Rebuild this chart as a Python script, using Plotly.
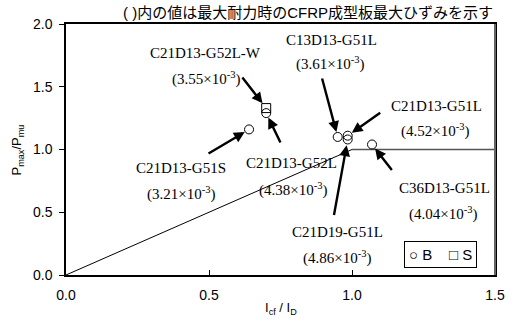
import plotly.graph_objects as go

# Specimen results: stiffness ratio Icf/ID vs. strength ratio Pmax/Pmu
b_names = ["C21D13-G51S", "C21D13-G52L", "C13D13-G51L",
           "C21D13-G51L", "C21D19-G51L", "C36D13-G51L"]
b_x = [0.64, 0.70, 0.95, 0.985, 0.985, 1.07]
b_y = [1.16, 1.29, 1.10, 1.11, 1.08, 1.04]

s_names = ["C21D13-G52L-W"]
s_x = [0.70]
s_y = [1.33]

# Max CFRP plate strain at peak load (x10^-3)
strain = {
    "C21D13-G51S": "3.21", "C21D13-G52L": "4.38", "C13D13-G51L": "3.61",
    "C21D13-G51L": "4.52", "C21D19-G51L": "4.86", "C36D13-G51L": "4.04",
    "C21D13-G52L-W": "3.55",
}

# Reference line: Pmax/Pmu = min(Icf/ID, 1)
ref_x = [0.0, 1.0, 1.5]
ref_y = [0.0, 1.0, 1.0]

# Label placement (centre of name line, centre of strain line) in data units
label_pos = {
    "C21D13-G52L-W": ((0.488, 1.771), (0.490, 1.567)),
    "C13D13-G51L": ((0.928, 1.873), (0.924, 1.687)),
    "C21D13-G51L": ((1.295, 1.347), (1.290, 1.150)),
    "C21D13-G51S": ((0.402, 0.850), (0.402, 0.651)),
    "C21D13-G52L": ((0.790, 0.890), (0.795, 0.683)),
    "C36D13-G51L": ((1.324, 0.693), (1.317, 0.494)),
    "C21D19-G51L": ((0.948, 0.343), (0.948, 0.143)),
}
# Arrow tail offsets (px) from each marker, plus standoff
arrow_off = {
    "C21D13-G52L-W": (-25, -32, 6),
    "C21D13-G52L": (15, 31, 5),
    "C21D13-G51S": (-42, 25, 5),
    "C13D13-G51L": (-16, -60, 5),
    "C21D13-G51L": (34, -24, 5),
    "C21D19-G51L": (-14, 77, 6),
    "C36D13-G51L": (21, 27, 5),
}

SERIF = "Liberation Serif, Times New Roman, serif"
SANS = "Liberation Sans, Arial, sans-serif"

fig = go.Figure()
fig.add_trace(go.Scatter(x=ref_x[:2], y=ref_y[:2], mode="lines",
                         line=dict(color="black", width=1), hoverinfo="skip"))
fig.add_trace(go.Scatter(x=ref_x[1:], y=ref_y[1:], mode="lines",
                         line=dict(color="#555555", width=1.6), hoverinfo="skip"))
fig.add_trace(go.Scatter(x=b_x, y=b_y, mode="markers", name="B", text=b_names,
                         marker=dict(symbol="circle-open", size=9, color="black",
                                     line=dict(width=1))))
fig.add_trace(go.Scatter(x=s_x, y=s_y, mode="markers", name="S", text=s_names,
                         marker=dict(symbol="square-open", size=9, color="black",
                                     line=dict(width=1))))

annotations = []
all_pts = dict(zip(b_names, zip(b_x, b_y)))
all_pts.update(dict(zip(s_names, zip(s_x, s_y))))
for name, (px, py) in all_pts.items():
    (nx, ny), (sx, sy) = label_pos[name]
    annotations.append(dict(x=nx, y=ny, xref="x", yref="y", text=name,
                            showarrow=False, font=dict(family=SERIF, size=15, color="black")))
    annotations.append(dict(x=sx, y=sy, xref="x", yref="y",
                            text="(" + strain[name] + "×10<sup>-3</sup>)",
                            showarrow=False, font=dict(family=SERIF, size=15, color="black")))
    ax, ay, so = arrow_off[name]
    annotations.append(dict(x=px, y=py, xref="x", yref="y", text="", showarrow=True,
                            ax=ax, ay=ay, arrowhead=2, arrowsize=0.9, arrowwidth=2.4,
                            arrowcolor="black", standoff=so))

# Note above the plot
annotations.append(dict(x=1.0, y=1.0, xref="paper", yref="paper", xanchor="right",
                        yanchor="bottom", yshift=1,
                        text="( )内の値は最大耐力時のCFRP成型板最大ひずみを示す",
                        showarrow=False,
                        font=dict(family="Liberation Sans, Noto Sans CJK JP", size=15,
                                  color="black")))
# Symbol key
annotations.append(dict(x=1.309, y=0.163, xref="x", yref="y",
                        text="○ B\u00a0\u00a0\u00a0\u00a0□ S", showarrow=False,
                        bordercolor="black", borderwidth=1, borderpad=4,
                        bgcolor="white",
                        font=dict(family=SANS, size=15, color="black")))
# Axis titles
annotations.append(dict(x=0.5, y=-0.135, xref="paper", yref="paper", yanchor="middle",
                        text="I<sub>cf</sub> / I<sub>D</sub>", showarrow=False,
                        font=dict(family=SANS, size=13, color="black")))
annotations.append(dict(x=-0.112, y=0.5, xref="paper", yref="paper", xanchor="center",
                        text="P<sub>max</sub>/P<sub>mu</sub>", showarrow=False,
                        textangle=-90,
                        font=dict(family=SANS, size=13, color="black")))

fig.update_layout(
    width=517, height=322,
    margin=dict(l=66, r=16, t=24, b=47),
    paper_bgcolor="white", plot_bgcolor="white",
    showlegend=False,
    annotations=annotations,
    shapes=[dict(type="line", xref="paper", yref="paper", x0=1, x1=1, y0=0, y1=1,
                 line=dict(color="#666666", width=2))],
)
fig.update_xaxes(range=[0, 1.5], tickvals=[0, 0.5, 1.0, 1.5],
                 ticktext=["0.0", "0.5", "1.0", "1.5"],
                 ticks="inside", ticklen=5, tickcolor="black",
                 ticklabelstandoff=6,
                 showline=True, linecolor="black", linewidth=1.5, mirror=True,
                 showgrid=False, zeroline=False,
                 tickfont=dict(family=SANS, size=14, color="black"))
fig.update_yaxes(range=[0, 2.0], tickvals=[0, 0.5, 1.0, 1.5, 2.0],
                 ticktext=["0.0", "0.5", "1.0", "1.5", "2.0"],
                 ticks="outside", ticklen=5, tickcolor="black",
                 ticklabelstandoff=4,
                 showline=True, linecolor="black", linewidth=1.5, mirror=True,
                 showgrid=False, zeroline=False,
                 tickfont=dict(family=SANS, size=14, color="black"))

fig.write_html("out.html")
